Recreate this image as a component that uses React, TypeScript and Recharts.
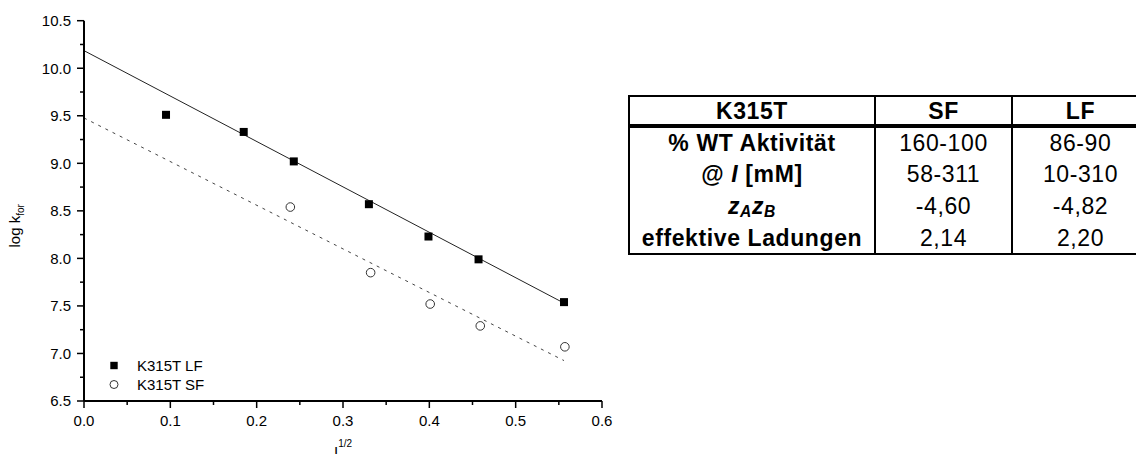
import React from 'react';
import { ComposedChart, XAxis, YAxis, Scatter, Line, Legend, Label } from 'recharts';

// Measured rate constants (log k_for) against the square root of ionic strength
const lfX = [0.095, 0.185, 0.243, 0.330, 0.399, 0.457, 0.556];
const lfY = [9.51, 9.33, 9.02, 8.57, 8.23, 7.99, 7.54];
const sfX = [0.239, 0.332, 0.401, 0.459, 0.557];
const sfY = [8.54, 7.85, 7.52, 7.29, 7.07];

// Linear fits (start and end points)
const lfFitX = [0, 0.558];
const lfFitY = [10.185, 7.52];
const sfFitX = [0, 0.556];
const sfFitY = [9.477, 6.925];

// Axis ticks
const xMajorTicks = [0, 0.1, 0.2, 0.3, 0.4, 0.5, 0.6];
const xMinorTicks = [0.05, 0.15, 0.25, 0.35, 0.45, 0.55];
const yMajorTicks = [6.5, 7.0, 7.5, 8.0, 8.5, 9.0, 9.5, 10.0, 10.5];
const yMinorTicks = [6.75, 7.25, 7.75, 8.25, 8.75, 9.25, 9.75, 10.25];

// Summary table
const tableHeader = ['K315T', 'SF', 'LF'];
const tableSF = ['160-100', '58-311', '-4,60', '2,14'];
const tableLF = ['86-90', '10-310', '-4,82', '2,20'];

const seriesNames = ['K315T LF', 'K315T SF'];

const FONT = '"Liberation Sans", Arial, Helvetica, sans-serif';
const AXIS_FONT = 15;

const toPoints = (xs: number[], ys: number[]) => xs.map((x, i) => ({ x, y: ys[i] }));
const lfData = toPoints(lfX, lfY);
const sfData = toPoints(sfX, sfY);
const lfFit = toPoints(lfFitX, lfFitY);
const sfFit = toPoints(sfFitX, sfFitY);

const isOn = (v: number, step: number) => Math.abs(v / step - Math.round(v / step)) < 1e-6;

const XTick = (props: any) => {
  const { x, y, payload } = props;
  const major = isOn(payload.value, 0.1);
  return (
    <g>
      <line x1={x} x2={x} y1={y} y2={y + (major ? 7 : 4)} stroke="#000" strokeWidth={1.5} />
      {major && (
        <text x={x} y={y + 25} textAnchor="middle" fontSize={AXIS_FONT} fontFamily={FONT} fill="#000">
          {payload.value.toFixed(1)}
        </text>
      )}
    </g>
  );
};

const YTick = (props: any) => {
  const { x, y, payload } = props;
  const major = isOn(payload.value, 0.5);
  return (
    <g>
      <line x1={x - (major ? 7 : 4)} x2={x} y1={y} y2={y} stroke="#000" strokeWidth={1.5} />
      {major && (
        <text x={x - 13} y={y} dy="0.36em" textAnchor="end" fontSize={AXIS_FONT} fontFamily={FONT} fill="#000">
          {payload.value.toFixed(1)}
        </text>
      )}
    </g>
  );
};

const SquareDot = (props: any) => {
  const { cx, cy } = props;
  return <rect x={cx - 4} y={cy - 4} width={8} height={8} fill="#000" />;
};

const CircleDot = (props: any) => {
  const { cx, cy } = props;
  return <circle cx={cx} cy={cy} r={4.3} fill="#fff" stroke="#333" strokeWidth={1} />;
};

const YLabel = (props: any) => {
  const vb = props.viewBox;
  const cx = 20;
  const cy = vb.y + vb.height / 2 + 15;
  return (
    <text
      x={cx}
      y={cy}
      textAnchor="middle"
      transform={`rotate(-90, ${cx}, ${cy})`}
      fontSize={AXIS_FONT}
      fontFamily={FONT}
      fill="#000"
    >
      log k
      <tspan fontSize={10} dy={4}>for</tspan>
    </text>
  );
};

const XLabel = (props: any) => {
  const vb = props.viewBox;
  const cx = vb.x + vb.width / 2;
  return (
    <text x={cx} y={vb.y + 56} textAnchor="middle" fontSize={AXIS_FONT} fontFamily={FONT} fill="#000">
      I
      <tspan fontSize={10} dy={-10}>1/2</tspan>
    </text>
  );
};

const LegendContent = (props: any) => {
  const items = (props.payload || []).filter((p: any) => seriesNames.includes(p.value));
  return (
    <div style={{ fontFamily: FONT, fontSize: AXIS_FONT, color: '#000' }}>
      {items.map((item: any) => (
        <div key={item.value} style={{ display: 'flex', alignItems: 'center', height: 19 }}>
          <svg width={18} height={19}>
            {item.value === seriesNames[0] ? (
              <rect x={5.3} y={5.8} width={7.4} height={7.4} fill="#000" />
            ) : (
              <circle cx={9} cy={9.5} r={4} fill="#fff" stroke="#333" strokeWidth={1} />
            )}
          </svg>
          <span style={{ marginLeft: 14, lineHeight: '19px' }}>{item.value}</span>
        </div>
      ))}
    </div>
  );
};

const cellBase: React.CSSProperties = {
  borderLeft: '2px solid #000',
  borderRight: '2px solid #000',
  padding: 0,
  textAlign: 'center',
  verticalAlign: 'middle',
  lineHeight: '24px',
  whiteSpace: 'nowrap',
  letterSpacing: 0.6,
};

const subStyle: React.CSSProperties = { fontSize: '0.68em', verticalAlign: '-0.2em', lineHeight: 0 };

const rowLabel = (i: number) => {
  switch (i) {
    case 0:
      return <>% WT Aktivität</>;
    case 1:
      return (
        <>
          @ <i>I</i> [mM]
        </>
      );
    case 2:
      return (
        <i>
          z<span style={subStyle}>A</span>z<span style={subStyle}>B</span>
        </i>
      );
    default:
      return <>effektive Ladungen</>;
  }
};

export default function App() {
  return (
    <div
      style={{
        position: 'fixed',
        left: 0,
        top: 0,
        width: 1136,
        height: 454,
        overflow: 'hidden',
        background: '#fff',
        fontFamily: FONT,
      }}
    >
      <ComposedChart width={620} height={454} margin={{ top: 20.7, right: 18, bottom: 23, left: 24 }}>
        <XAxis
          dataKey="x"
          type="number"
          domain={[0, 0.6]}
          ticks={[...xMajorTicks, ...xMinorTicks].sort((a, b) => a - b)}
          interval={0}
          tickSize={0}
          tickMargin={0}
          tickLine={false}
          tick={<XTick />}
          axisLine={{ stroke: '#000', strokeWidth: 2 }}
          height={30}
          allowDataOverflow
        >
          <Label content={<XLabel />} />
        </XAxis>
        <YAxis
          dataKey="y"
          type="number"
          domain={[6.5, 10.5]}
          ticks={[...yMajorTicks, ...yMinorTicks].sort((a, b) => a - b)}
          interval={0}
          tickSize={0}
          tickMargin={0}
          tickLine={false}
          tick={<YTick />}
          axisLine={{ stroke: '#000', strokeWidth: 2 }}
          width={60}
          allowDataOverflow
        >
          <Label content={<YLabel />} />
        </YAxis>
        <Line
          data={lfFit}
          dataKey="y"
          type="linear"
          stroke="#222"
          strokeWidth={1}
          dot={false}
          activeDot={false}
          legendType="none"
          isAnimationActive={false}
        />
        <Line
          data={sfFit}
          dataKey="y"
          type="linear"
          stroke="#444"
          strokeWidth={1}
          strokeDasharray="3 5"
          dot={false}
          activeDot={false}
          legendType="none"
          isAnimationActive={false}
        />
        <Scatter name={seriesNames[0]} data={lfData} fill="#000" shape={<SquareDot />} isAnimationActive={false} />
        <Scatter name={seriesNames[1]} data={sfData} fill="#fff" shape={<CircleDot />} isAnimationActive={false} />
        <Legend
          layout="vertical"
          align="center"
          verticalAlign="middle"
          content={<LegendContent />}
          wrapperStyle={{ left: 105, top: 356, width: 150 }}
        />
      </ComposedChart>

      <table
        style={{
          position: 'absolute',
          left: 628,
          top: 95,
          borderCollapse: 'collapse',
          tableLayout: 'fixed',
          width: 522,
          fontFamily: FONT,
          fontSize: 23,
          color: '#000',
          border: '2px solid #000',
        }}
      >
        <colgroup>
          <col style={{ width: 246 }} />
          <col style={{ width: 137 }} />
          <col style={{ width: 137 }} />
        </colgroup>
        <thead>
          <tr style={{ height: 30 }}>
            {tableHeader.map((h) => (
              <th key={h} style={{ ...cellBase, fontWeight: 'bold', borderBottom: '4px solid #000' }}>
                {h}
              </th>
            ))}
          </tr>
        </thead>
        <tbody>
          {tableSF.map((sf, i) => (
            <tr key={i} style={{ height: 32 }}>
              <td style={{ ...cellBase, fontWeight: 'bold' }}>{rowLabel(i)}</td>
              <td style={cellBase}>{sf}</td>
              <td style={cellBase}>{tableLF[i]}</td>
            </tr>
          ))}
        </tbody>
      </table>
    </div>
  );
}
